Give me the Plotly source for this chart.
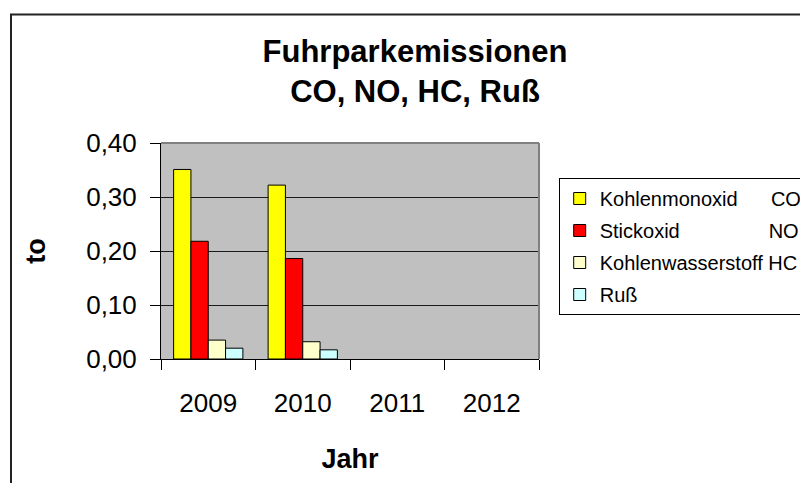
import plotly.graph_objects as go

# ---- data ----
years = ["2009", "2010", "2011", "2012"]
co_values = [0.351, 0.322, None, None]
no_values = [0.218, 0.186, None, None]
hc_values = [0.035, 0.032, None, None]
russ_values = [0.020, 0.017, None, None]

NB = "\u00a0"
series_names = [
    "Kohlenmonoxid" + NB * 6 + "CO",
    "Stickoxid" + NB * 16 + "NO",
    "Kohlenwasserstoff HC",
    "Ruß",
]
series_values = [co_values, no_values, hc_values, russ_values]
series_colors = ["#FFFF00", "#FF0000", "#FFFFCC", "#CCFFFF"]

FONT = "Liberation Sans, Arial, sans-serif"

# plot area in pixels
L, R, T, B = 161, 539, 143, 359
W, H = 800, 483
PW, PH = R - L, B - T


def px_x(x):
    return (x - L) / PW


def px_y(y):
    return (B - y) / PH


fig = go.Figure()
for i, (name, vals, col) in enumerate(zip(series_names, series_values, series_colors)):
    fig.add_trace(go.Bar(
        x=years, y=vals, name=name, legendgroup=f"g{i}",
        marker=dict(color=col, line=dict(color="black", width=1)),
    ))

fig.update_layout(
    width=W, height=H,
    margin=dict(l=L, r=W - R, t=T, b=H - B, autoexpand=False),
    paper_bgcolor="white",
    plot_bgcolor="#C0C0C0",
    separators=",.",
    barmode="group",
    bargap=0.267,
    bargroupgap=0,
    font=dict(family=FONT, color="black"),
    title=dict(
        text="Fuhrparkemissionen<br>CO, NO, HC, Ruß",
        font=dict(family=FONT, size=31, color="black", weight="bold"),
        xref="paper", x=px_x(415), xanchor="center",
        yref="container", y=1 - 62.0 / H, yanchor="middle",
    ),
    xaxis=dict(
        type="category",
        range=[-0.5, 3.5],
        tickson="boundaries",
        ticks="outside", ticklen=10, tickcolor="black", tickwidth=1,
        showline=True, linecolor="black", linewidth=1,
        showgrid=False,
        tickfont=dict(family=FONT, size=26, color="black"),
        ticklabelstandoff=21,
        title=dict(text="Jahr", font=dict(family=FONT, size=27, color="black", weight="bold"),
                   standoff=31),
    ),
    yaxis=dict(
        range=[0, 0.4],
        tickvals=[0, 0.1, 0.2, 0.3, 0.4],
        tickformat=".2f",
        ticks="outside", ticklen=10, tickcolor="black", tickwidth=1,
        showline=True, linecolor="black", linewidth=1,
        showgrid=True, gridcolor="#1a1a1a", gridwidth=1,
        zeroline=False,
        tickfont=dict(family=FONT, size=26, color="black"),
        ticklabelstandoff=8,
        title=dict(text="to", font=dict(family=FONT, size=27, color="black", weight="bold"),
                   standoff=32),
    ),
    legend=dict(
        x=px_x(558.7), xanchor="left",
        y=px_y(178), yanchor="top",
        xref="paper", yref="paper",
        bgcolor="white", bordercolor="black", borderwidth=1,
        font=dict(family=FONT, size=20, color="black"),
        traceorder="grouped", tracegroupgap=3,
    ),
    showlegend=True,
    shapes=[
        # outer chart border (continues past the right/bottom edge)
        dict(type="rect", xref="paper", yref="paper",
             x0=px_x(11), y0=px_y(14.5), x1=px_x(900), y1=px_y(600),
             line=dict(color="#222222", width=2), fillcolor="rgba(0,0,0,0)", layer="below"),
        # plot area top and right border
        dict(type="line", xref="paper", yref="paper", x0=0, x1=1, y0=1, y1=1,
             line=dict(color="#808080", width=2)),
        dict(type="line", xref="paper", yref="paper", x0=1, x1=1, y0=0, y1=1,
             line=dict(color="#808080", width=2)),
    ],
)

fig.write_html("out.html", config={"displayModeBar": False},
               post_script="document.body.style.margin='0';")
